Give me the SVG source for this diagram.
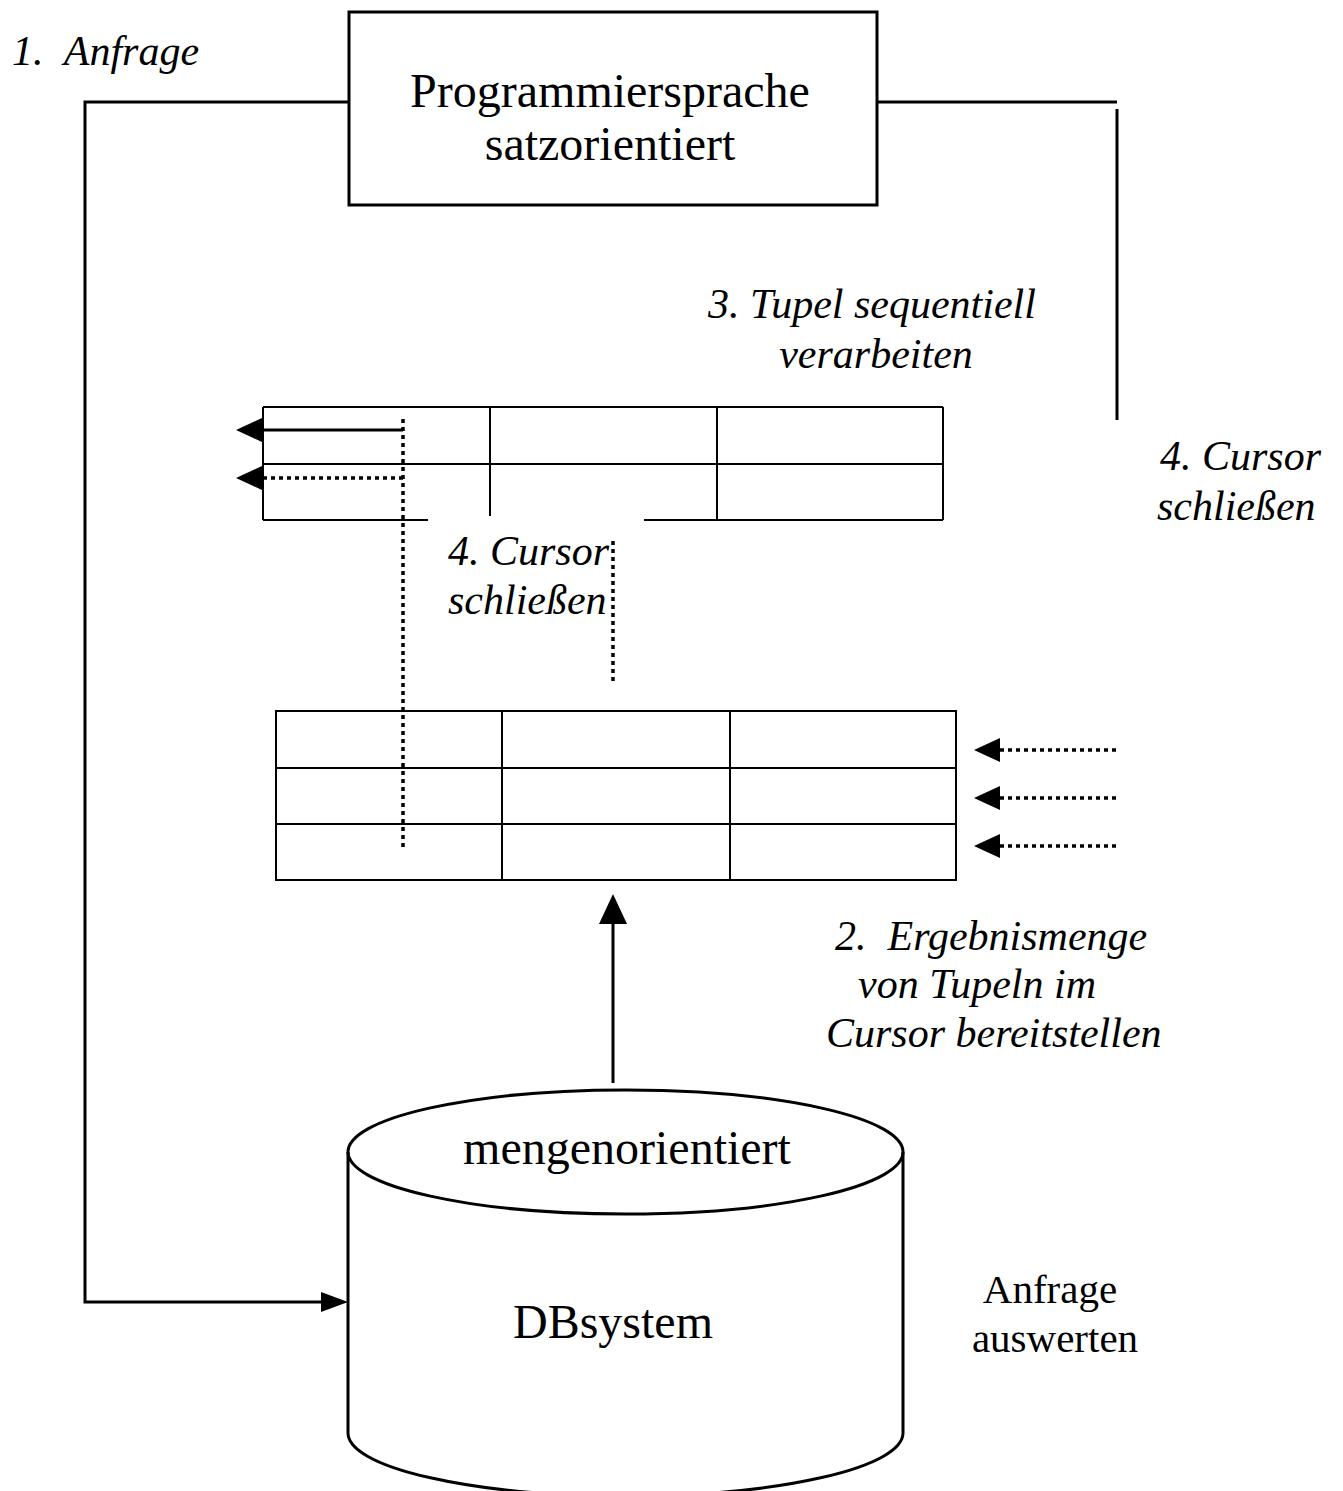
<svg xmlns="http://www.w3.org/2000/svg" width="1343" height="1491" viewBox="0 0 1343 1491">
  <style>
    .lbl { font-family: "Liberation Serif", "Times New Roman", serif; font-size: 48px; fill: #000; }
    .it { font-family: "Liberation Serif", "Times New Roman", serif; font-size: 42px; font-style: italic; fill: #000; }
    .note { font-family: "Liberation Serif", "Times New Roman", serif; font-size: 41px; fill: #000; }
    .edge { stroke: #000; stroke-width: 3; fill: none; }
    .grid { stroke: #000; stroke-width: 2; fill: none; }
    .dots { stroke: #000; stroke-width: 3.5; stroke-dasharray: 4 4; fill: none; }
    .head { fill: #000; }
  </style>
  <rect width="1343" height="1491" fill="#fff"/>

  <!-- step labels -->
  <g id="labels">
    <text class="it" x="12" y="65" xml:space="preserve">1.  Anfrage</text>
    <text class="it" x="872" y="318" text-anchor="middle">3. Tupel sequentiell</text>
    <text class="it" x="876" y="368" text-anchor="middle">verarbeiten</text>
    <text class="it" x="1160" y="470">4. Cursor</text>
    <text class="it" x="1157" y="520">schließen</text>
    <text class="it" x="448" y="565">4. Cursor</text>
    <text class="it" x="448" y="614">schließen</text>
    <text class="it" x="835" y="950" xml:space="preserve">2.  Ergebnismenge</text>
    <text class="it" x="858" y="998">von Tupeln im</text>
    <text class="it" x="826" y="1047">Cursor bereitstellen</text>
    <text class="note" x="1050" y="1303" text-anchor="middle">Anfrage</text>
    <text class="note" x="1055" y="1352" text-anchor="middle">auswerten</text>
  </g>

  <!-- record-oriented programming language -->
  <g id="program">
    <rect x="349" y="12" width="528" height="193" class="edge"/>
    <text class="lbl" x="610" y="107" text-anchor="middle">Programmiersprache</text>
    <text class="lbl" x="610" y="160" text-anchor="middle">satzorientiert</text>
  </g>

  <!-- cursor table (two rows) -->
  <g id="cursor-table">
    <line x1="263" y1="407" x2="943" y2="407" class="grid"/>
    <line x1="263" y1="464" x2="943" y2="464" class="grid"/>
    <line x1="263" y1="520" x2="428" y2="520" class="grid"/>
    <line x1="644" y1="520" x2="943" y2="520" class="grid"/>
    <line x1="263" y1="407" x2="263" y2="520" class="grid"/>
    <line x1="490" y1="407" x2="490" y2="516" class="grid"/>
    <line x1="717" y1="407" x2="717" y2="520" class="grid"/>
    <line x1="943" y1="407" x2="943" y2="520" class="grid"/>
  </g>

  <!-- result set table (three rows) -->
  <g id="result-table">
    <rect x="276" y="711" width="680" height="169" class="grid"/>
    <line x1="276" y1="768" x2="956" y2="768" class="grid"/>
    <line x1="276" y1="824" x2="956" y2="824" class="grid"/>
    <line x1="502" y1="711" x2="502" y2="880" class="grid"/>
    <line x1="730" y1="711" x2="730" y2="880" class="grid"/>
  </g>

  <!-- set-oriented database system -->
  <g id="dbsystem">
    <path d="M348,1152 L348,1433 A277.5,63 0 0 0 903,1433 L903,1152" class="edge"/>
    <ellipse cx="625.5" cy="1152" rx="277.5" ry="62" class="edge"/>
    <text class="lbl" x="627" y="1164" text-anchor="middle">mengenorientiert</text>
    <text class="lbl" x="613" y="1338" text-anchor="middle">DBsystem</text>
  </g>

  <g id="connectors">
    <!-- query path into the DB system -->
    <polyline points="348,102 85,102 85,1302 322,1302" class="edge"/>
    <polygon points="348,1302 321,1292 321,1312" class="head"/>
    <!-- close-cursor line on the right -->
    <line x1="877" y1="102" x2="1117" y2="102" class="edge"/>
    <line x1="1117" y1="109" x2="1117" y2="420" class="edge"/>
    <!-- result set delivered upward -->
    <line x1="613" y1="1083" x2="613" y2="922" class="edge"/>
    <polygon points="613,894 599,924 627,924" class="head"/>
    <!-- sequential tuple processing -->
    <line x1="263" y1="430" x2="403" y2="430" class="edge"/>
    <polygon points="236,430 264,417 264,443" class="head"/>
    <line x1="263" y1="478" x2="403" y2="478" class="dots"/>
    <polygon points="236,478 264,465 264,491" class="head"/>
    <line x1="403" y1="419" x2="403" y2="849" class="dots"/>
    <line x1="613" y1="541" x2="613" y2="681" class="dots"/>
    <!-- tuples entering the cursor -->
    <line x1="1000" y1="750" x2="1117" y2="750" class="dots"/>
    <polygon points="974,750 1000,738 1000,762" class="head"/>
    <line x1="1000" y1="798" x2="1117" y2="798" class="dots"/>
    <polygon points="974,798 1000,786 1000,810" class="head"/>
    <line x1="1000" y1="846" x2="1117" y2="846" class="dots"/>
    <polygon points="974,846 1000,834 1000,858" class="head"/>
  </g>
</svg>
